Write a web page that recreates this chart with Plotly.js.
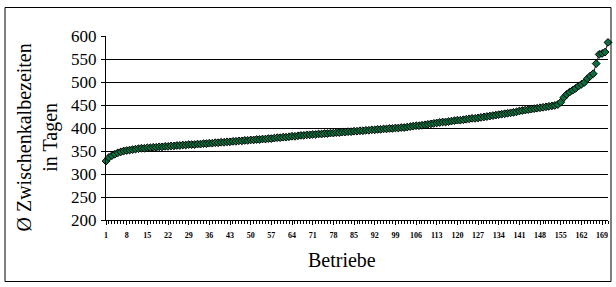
<!DOCTYPE html>
<html>
<head>
<meta charset="utf-8">
<script src="https://cdn.plot.ly/plotly-3.0.1.min.js"></script>
<style>
  html, body { margin: 0; padding: 0; background: #ffffff; }
  #chart { width: 616px; height: 287px; }
</style>
</head>
<body>
<div id="chart"></div>
<script>
// Ø Zwischenkalbezeiten (Tage) je Betrieb, aufsteigend sortiert
const zwischenkalbezeit = [
  328, 336, 340, 343, 346, 348, 350, 351, 352, 353,
  354, 355, 356, 356, 357, 357, 358, 358, 359, 359,
  360, 360, 361, 361, 362, 362, 363, 363, 364, 364,
  364, 365, 365, 366, 366, 367, 367, 368, 368, 369,
  369, 370, 370, 371, 371, 372, 372, 373, 373, 374,
  374, 375, 375, 376, 376, 377, 377, 378, 379, 379,
  380, 380, 381, 382, 382, 383, 384, 384, 385, 385,
  386, 386, 387, 387, 388, 388, 389, 389, 390, 390,
  391, 391, 392, 392, 393, 393, 394, 394, 395, 395,
  396, 396, 397, 397, 398, 398, 399, 399, 400, 400,
  401, 401, 402, 403, 404, 405, 405, 406, 407, 408,
  409, 410, 411, 412, 413, 413, 414, 415, 416, 417,
  417, 418, 419, 420, 421, 421, 422, 423, 424, 425,
  426, 427, 428, 429, 430, 431, 432, 433, 434, 435,
  437, 438, 439, 440, 441, 442, 443, 444, 445, 446,
  447, 448, 449, 451, 456, 466, 473, 478, 482, 486,
  491, 495, 499, 507, 513, 518, 540, 560, 562, 565,
  586
];
const betriebe = zwischenkalbezeit.map((v, i) => i + 1);

const xTickVals = [1, 8, 15, 22, 29, 36, 43, 50, 57, 64, 71, 78, 85, 92, 99, 106, 113, 120, 127, 134, 141, 148, 155, 162, 169];
const xTickText = ["1", "8", "15", "22", "29", "36", "43", "50", "57", "64", "71", "78", "85", "92", "99", "106", "113", "120", "127", "134", "141", "148", "155", "162", "169"];
const yTickVals = [200, 250, 300, 350, 400, 450, 500, 550, 600];
const yTickText = ["200", "250", "300", "350", "400", "450", "500", "550", "600"];

const yTitle = "Ø Zwischenkalbezeiten<br>in Tagen";
const xTitle = "Betriebe";

const serif = "Times New Roman, Liberation Serif, DejaVu Serif, serif";

const trace = {
  x: betriebe,
  y: zwischenkalbezeit,
  type: 'scatter',
  mode: 'lines+markers',
  cliponaxis: false,
  line: { color: '#1a1a1a', width: 1 },
  marker: { symbol: 'diamond', size: 6, color: '#0a7040', line: { color: '#000000', width: 1 } },
  hoverinfo: 'x+y'
};

const layout = {
  width: 616,
  height: 287,
  margin: { l: 106, r: 8, t: 36, b: 67, pad: 0 },
  paper_bgcolor: '#ffffff',
  plot_bgcolor: '#ffffff',
  showlegend: false,
  font: { family: serif, color: '#000000' },
  xaxis: {
    range: [1, betriebe.length],
    tickmode: 'array',
    tickvals: xTickVals,
    ticktext: xTickText,
    ticks: 'outside',
    ticklen: 4,
    tickwidth: 1,
    tickcolor: '#000000',
    ticklabelstandoff: 3,
    tickfont: { family: serif, size: 8, color: '#000000', weight: 'bold' },
    showline: true,
    linecolor: '#000000',
    linewidth: 1,
    showgrid: false,
    zeroline: false,
    minor: { tickmode: 'linear', tick0: 1, dtick: 1, ticks: 'outside', ticklen: 3, tickcolor: '#000000', tickwidth: 1, showgrid: false }
  },
  yaxis: {
    range: [200, 600],
    tickmode: 'array',
    tickvals: yTickVals,
    ticktext: yTickText,
    ticks: 'outside',
    ticklen: 4,
    tickcolor: '#000000',
    tickfont: { family: serif, size: 17, color: '#000000' },
    ticklabelstandoff: 1,
    showline: true,
    linecolor: '#000000',
    linewidth: 1,
    showgrid: true,
    gridcolor: '#000000',
    gridwidth: 1,
    zeroline: false
  },
  annotations: [
    {
      text: yTitle, xref: 'paper', yref: 'paper',
      x: (37 - 106) / 502, y: (220.5 - 138) / 184,
      xanchor: 'center', yanchor: 'middle', textangle: -90, showarrow: false,
      font: { family: serif, size: 20, color: '#000000' }
    },
    {
      text: xTitle, xref: 'paper', yref: 'paper',
      x: (342 - 106) / 502, y: (220.5 - 260) / 184,
      xanchor: 'center', yanchor: 'middle', showarrow: false,
      font: { family: serif, size: 20, color: '#000000' }
    }
  ],
  shapes: [
    {
      type: 'rect', xref: 'paper', yref: 'paper',
      x0: (5 - 106) / 502, x1: (611 - 106) / 502,
      y0: (220.5 - 282) / 184, y1: (220.5 - 8) / 184,
      line: { color: '#000000', width: 1 }, fillcolor: 'rgba(0,0,0,0)'
    }
  ]
};

Plotly.newPlot('chart', [trace], layout, { displayModeBar: false, staticPlot: true });
</script>
</body>
</html>
